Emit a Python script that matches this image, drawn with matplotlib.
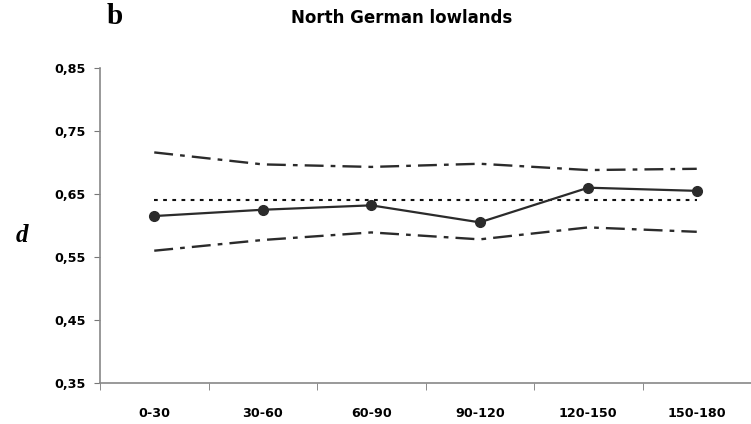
import matplotlib
matplotlib.use("Agg")
import matplotlib.pyplot as plt
import numpy as np

categories = ["0-30", "30-60", "60-90", "90-120", "120-150", "150-180"]
d_values = [0.615, 0.625, 0.632, 0.605, 0.660, 0.655]
upper_values = [0.716, 0.697, 0.693, 0.698, 0.688, 0.690]
lower_values = [0.560, 0.577, 0.589, 0.578, 0.597, 0.590]
mean_value = 0.640
y_ticks = [0.35, 0.45, 0.55, 0.65, 0.75, 0.85]
y_tick_labels = ["0,35", "0,45", "0,55", "0,65", "0,75", "0,85"]

fig = plt.figure(figsize=(7.51, 4.24), dpi=100)
ax = fig.add_axes([100/751, 41/424, 651/751, 315/424])

x = np.arange(len(categories)) + 0.5
col = "#2b2b2b"
ax.plot(x, upper_values, color=col, lw=1.7, dashes=(8, 3, 2, 3))
ax.plot(x, lower_values, color=col, lw=1.7, dashes=(8, 3, 2, 3))
ax.plot([x[0], x[-1]], [mean_value, mean_value], color="#111111", lw=1.5, dashes=(1.8, 2.6))
ax.plot(x, d_values, color=col, lw=1.6, marker="o", markersize=7,
        markerfacecolor=col, markeredgecolor=col)

ax.set_xlim(0, len(categories))
ax.set_ylim(0.35, 0.85)
tick_font = dict(fontfamily="DejaVu Sans", fontweight="bold", fontsize=9.2)
ax.set_yticks(y_ticks)
ax.set_yticklabels(y_tick_labels, **tick_font)
ax.set_xticks(x)
ax.set_xticklabels(categories, **tick_font)
ax.set_xticks(np.arange(0, len(categories) + 1), minor=True)
ax.tick_params(axis="x", which="major", length=0, pad=17)
ax.tick_params(axis="x", which="minor", length=5, color="#777777", direction="out")
ax.tick_params(axis="y", length=4, color="#777777", direction="out", pad=6)

for s in ["top", "right"]:
    ax.spines[s].set_visible(False)
for s in ["left", "bottom"]:
    ax.spines[s].set_color("#888888")
    ax.spines[s].set_linewidth(1.2)

fig.text(402/751, 1 - 18/424, "North German lowlands", ha="center", va="center",
         fontfamily="DejaVu Sans", fontweight="bold", fontsize=12)
fig.text(115/751, 1 - 16/424, "b", ha="center", va="center",
         fontfamily="Liberation Serif", fontweight="bold", fontsize=21)
fig.text(22/751, 1 - 236/424, "d", ha="center", va="center",
         fontfamily="Liberation Serif", fontweight="bold", fontstyle="italic", fontsize=18)

fig.savefig("out.png", dpi=100, facecolor="white")
